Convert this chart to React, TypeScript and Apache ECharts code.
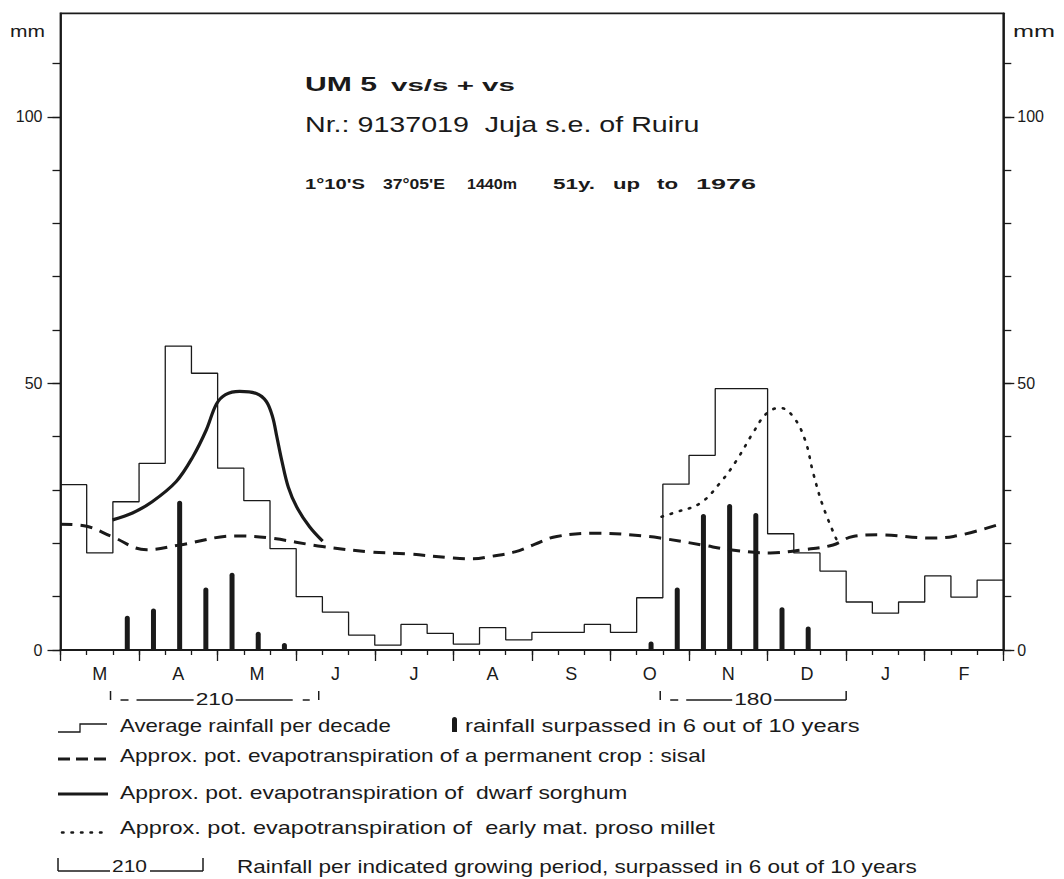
import React, { useEffect, useRef } from 'react';
import * as echarts from 'echarts';

// ---------- data ----------
const months = ['M', 'A', 'M', 'J', 'J', 'A', 'S', 'O', 'N', 'D', 'J', 'F'];

// average rainfall per decade (36 decades, March 1st .. end of February)
const decadeRainfall = [
  31, 18.2, 27.8, 35, 57, 51.9, 34.1, 28, 19, 10, 7.1, 2.8,
  0.9, 4.8, 3.1, 1.1, 4.2, 1.9, 3.3, 3.3, 4.8, 3.3, 9.8, 31.1,
  36.5, 49, 49, 21.8, 18.2, 14.8, 9, 6.9, 9, 13.9, 9.9, 13.1,
];

// rainfall surpassed in 6 out of 10 years (per decade, null = none)
const rain6of10 = [
  null, null, 6.4, 7.8, 28, 11.7, 14.5, 3.4, 1.3, null, null, null,
  null, null, null, null, null, null, null, null, null, null, 1.6, 11.7,
  25.5, 27.4, 25.7, 8, 4.4, null, null, null, null, null, null, null,
];

// approx. pot. evapotranspiration of sisal (decade position, mm)
const sisalDecade = [0, 1, 1.95, 3.29, 4.55, 6.73, 7.99, 10, 11.8, 13.3, 15, 15.74, 16.5, 17.35, 18.1, 18.95, 20.6, 22.2, 22.9, 24.5, 25.56, 27.1, 28.35, 29.5, 30.26, 31.3, 33.2, 34.1, 36];
const sisalValue = [23.6, 23.2, 21.3, 18.8, 19.7, 21.4, 21, 19.4, 18.4, 18, 17.25, 17.1, 17.6, 18.4, 19.8, 21.3, 21.9, 21.4, 21, 19.7, 18.8, 18.2, 18.8, 19.7, 21.3, 21.6, 21, 21.3, 23.8];

// dwarf sorghum
const sorghumDecade = [1.99, 2.75, 3.5, 4.42, 5.05, 5.57, 5.95, 6.3, 6.84, 7.48, 7.86, 8.1, 8.26, 8.45, 8.7, 9.02, 9.51, 10.01];
const sorghumValue = [24.4, 25.7, 27.8, 31.6, 36.2, 41.3, 46.1, 47.9, 48.5, 48.1, 46.6, 43.7, 40, 35.5, 30.5, 26.8, 23.1, 20.4];

// early maturing proso millet
const milletDecade = [22.95, 23.53, 24.42, 25.18, 25.82, 26.44, 26.97, 27.48, 27.97, 28.43, 28.74, 29.12, 29.64];
const milletValue = [25, 25.9, 27.5, 31.3, 35.6, 40.7, 44.4, 45.4, 43.8, 39.4, 33.2, 26.9, 20.6];

// growing periods (rainfall surpassed in 6 out of 10 years)
const periodLabels = ['210', '180'];
const periodStart = [1.91, 22.9];
const periodEnd = [9.86, 30.0];

const yTickValues = [0, 10, 20, 30, 40, 50, 60, 70, 80, 90, 100, 110];
const yLabelValues = [0, 50, 100];
const yMax = 119.4;

// ---------- helpers ----------
const INK = '#1a1a1a';
const FAMILY = '"Liberation Sans", Arial, Helvetica, sans-serif';

let measureCtx: CanvasRenderingContext2D | null = null;
function fitScale(text: string, font: string, width: number) {
  if (!measureCtx) measureCtx = document.createElement('canvas').getContext('2d');
  if (!measureCtx) return 1;
  measureCtx.font = font;
  const w = measureCtx.measureText(text).width;
  return w > 0 ? width / w : 1;
}

function label(text: string, x: number, y: number, width: number, size: number, weight = 'normal', align = 'left') {
  const font = `${weight} ${size}px ${FAMILY}`;
  return {
    type: 'text',
    x,
    y,
    scaleX: width ? fitScale(text, font, width) : 1,
    style: {
      text,
      font,
      fill: INK,
      align,
      textAlign: align,
      verticalAlign: 'middle',
      textVerticalAlign: 'middle',
    },
  };
}

function seg(x1: number, y1: number, x2: number, y2: number, width = 1.4, extra: any = {}) {
  return {
    type: 'line',
    shape: { x1, y1, x2, y2 },
    style: { stroke: INK, lineWidth: width, ...extra },
  };
}

export default function App() {
  const ref = useRef<HTMLDivElement>(null);

  useEffect(() => {
    if (!ref.current) return;
    const chart = echarts.init(ref.current, null, { renderer: 'svg' });

    const histData = decadeRainfall.map((v, i) => [i, v]);
    histData.push([36, decadeRainfall[decadeRainfall.length - 1]]);
    const barData = rain6of10.map((v, i) => [i + 0.55, v]).filter((d) => d[1] != null);
    const sisal = sisalDecade.map((d, i) => [d, sisalValue[i]]);
    const sorghum = sorghumDecade.map((d, i) => [d, sorghumValue[i]]);
    const millet = milletDecade.map((d, i) => [d, milletValue[i]]);

    const axisLine = { show: true, lineStyle: { color: INK, width: 1.8 } };
    const tickStyle = { color: INK, width: 1.3 };

    chart.setOption({
      animation: false,
      backgroundColor: '#ffffff',
      grid: {
        left: 60.5,
        right: 60.7,
        top: 13.3,
        bottom: 229,
        show: true,
        borderColor: INK,
        borderWidth: 1.8,
        backgroundColor: 'transparent',
      },
      xAxis: [
        {
          type: 'value',
          min: 0,
          max: 36,
          interval: 1,
          position: 'bottom',
          axisLine: { show: true, lineStyle: { color: INK, width: 2 } },
          axisTick: { show: true, length: 5, lineStyle: tickStyle },
          axisLabel: { show: false },
          splitLine: { show: false },
        },
        {
          type: 'category',
          data: months,
          position: 'bottom',
          boundaryGap: true,
          axisLine: { show: false },
          axisTick: { show: true, length: 11, interval: 0, lineStyle: tickStyle },
          axisLabel: { interval: 0, fontSize: 18, fontFamily: FAMILY, color: INK, margin: 15 },
          splitLine: { show: false },
        },
      ],
      yAxis: [
        {
          type: 'value',
          min: 0,
          max: yMax,
          position: 'left',
          axisLine,
          axisTick: { show: true, length: 8, customValues: yTickValues, lineStyle: tickStyle },
          axisLabel: { customValues: yLabelValues, fontSize: 16, fontFamily: FAMILY, color: INK, margin: 18 },
          splitLine: { show: false },
        },
        {
          type: 'value',
          min: 0,
          max: yMax,
          position: 'right',
          axisLine,
          axisTick: { show: true, length: 8, customValues: yTickValues, lineStyle: tickStyle },
          axisLabel: { customValues: yLabelValues, fontSize: 16, fontFamily: FAMILY, color: INK, margin: 14 },
          splitLine: { show: false },
        },
        {
          type: 'value',
          min: 0,
          max: yMax,
          position: 'left',
          axisLine: { show: false },
          axisTick: { show: true, length: 13, customValues: yLabelValues, lineStyle: tickStyle },
          axisLabel: { show: false },
          splitLine: { show: false },
        },
        {
          type: 'value',
          min: 0,
          max: yMax,
          position: 'right',
          axisLine: { show: false },
          axisTick: { show: true, length: 11, customValues: yLabelValues, lineStyle: tickStyle },
          axisLabel: { show: false },
          splitLine: { show: false },
        },
      ],
      series: [
        {
          name: 'Average rainfall per decade',
          type: 'line',
          xAxisIndex: 0,
          yAxisIndex: 0,
          data: histData,
          step: 'end',
          symbol: 'none',
          lineStyle: { color: INK, width: 1.3 },
          z: 2,
        },
        {
          name: 'rainfall surpassed in 6 out of 10 years',
          type: 'bar',
          xAxisIndex: 0,
          yAxisIndex: 0,
          data: barData,
          barWidth: 5,
          itemStyle: { color: INK, borderRadius: [2.5, 2.5, 0, 0] },
          z: 3,
        },
        {
          name: 'sisal',
          type: 'line',
          xAxisIndex: 0,
          yAxisIndex: 0,
          data: sisal,
          smooth: 0.4,
          symbol: 'none',
          lineStyle: { color: INK, width: 3, type: [12, 8] },
          z: 4,
        },
        {
          name: 'dwarf sorghum',
          type: 'line',
          xAxisIndex: 0,
          yAxisIndex: 0,
          data: sorghum,
          smooth: 0.35,
          symbol: 'none',
          lineStyle: { color: INK, width: 3.2 },
          z: 4,
        },
        {
          name: 'early mat. proso millet',
          type: 'line',
          xAxisIndex: 0,
          yAxisIndex: 0,
          data: millet,
          smooth: 0.4,
          symbol: 'none',
          lineStyle: { color: INK, width: 2.6, type: [1.5, 8], cap: 'round' },
          z: 4,
        },
      ],
    });

    // ---------- annotations ----------
    const elements: any[] = [];

    // mm labels
    elements.push(label('mm', 10, 31.5, 35, 16));
    elements.push(label('mm', 1013, 31.5, 42, 16));

    // title block
    elements.push(label('UM 5', 305, 83.4, 72, 21, 'bold'));
    elements.push(label('vs/s + vs', 391, 84.6, 124, 17, 'bold'));
    elements.push(label('Nr.: 9137019  Juja s.e. of Ruiru', 305, 123.8, 395, 22));
    elements.push(label("1°10'S", 305, 184, 60, 14, 'bold'));
    elements.push(label("37°05'E", 383, 184, 62, 14, 'bold'));
    elements.push(label('1440m', 467, 184, 50, 14, 'bold'));
    elements.push(label('51y.', 553, 184, 42, 14, 'bold'));
    elements.push(label('up', 613, 184, 27, 14, 'bold'));
    elements.push(label('to', 657, 184, 21, 14, 'bold'));
    elements.push(label('1976', 696, 184, 60, 14, 'bold'));

    // growing-period brackets under the axis
    const bracketY = 700;
    periodLabels.forEach((txt, i) => {
      const L = chart.convertToPixel({ xAxisIndex: 0 }, periodStart[i]) as number;
      const R = chart.convertToPixel({ xAxisIndex: 0 }, periodEnd[i]) as number;
      const mid = (L + R) / 2;
      const half = 21;
      elements.push(seg(L, bracketY - 9, L, bracketY, 1.5));
      elements.push(seg(R, bracketY - 9, R, bracketY, 1.5));
      elements.push(seg(L + 10, bracketY, L + 18, bracketY, 1.5));
      elements.push(seg(L + 26, bracketY, mid - half, bracketY, 1.5));
      if (i === 0) {
        elements.push(seg(mid + half, bracketY, R - 26, bracketY, 1.5));
        elements.push(seg(R - 16, bracketY, R - 9, bracketY, 1.5));
      } else {
        elements.push(seg(mid + half, bracketY, R, bracketY, 1.5));
      }
      elements.push(label(txt, mid, 699, 38, 17, 'normal', 'center'));
    });

    // legend
    elements.push({
      type: 'polyline',
      shape: { points: [[58, 732], [80, 732], [80, 724], [107, 724]] },
      style: { stroke: INK, lineWidth: 1.3, fill: null },
    });
    elements.push(label('Average rainfall per decade', 120, 725.3, 271, 18));
    elements.push({
      type: 'rect',
      shape: { x: 452, y: 717, width: 5, height: 15, r: [2.5, 2.5, 0, 0] },
      style: { fill: INK },
    });
    elements.push(label('rainfall surpassed in 6 out of 10 years', 465, 725.3, 395, 18));

    elements.push(seg(58, 759, 108, 759, 3, { lineDash: [12, 6] }));
    elements.push(label('Approx. pot. evapotranspiration of a permanent crop : sisal', 120, 756, 586, 18));

    elements.push(seg(58, 794, 108, 794, 3));
    elements.push(label('Approx. pot. evapotranspiration of  dwarf sorghum', 120, 792, 508, 18));

    elements.push(seg(62, 832.5, 108, 832.5, 2.6, { lineDash: [1.5, 8], lineCap: 'round' }));
    elements.push(label('Approx. pot. evapotranspiration of  early mat. proso millet', 120, 828, 595, 18));

    elements.push(seg(58, 858, 58, 871, 1.5));
    elements.push(seg(58, 871, 110, 871, 1.5));
    elements.push(label('210', 129.5, 866.7, 35, 17, 'normal', 'center'));
    elements.push(seg(150, 871, 203, 871, 1.5));
    elements.push(seg(203, 858, 203, 871, 1.5));
    elements.push(label('Rainfall per indicated growing period, surpassed in 6 out of 10 years', 237, 866.7, 680, 18));

    chart.setOption({ graphic: { elements } });

    return () => chart.dispose();
  }, []);

  return (
    <div
      ref={ref}
      style={{ position: 'fixed', left: 0, top: 0, width: 1064, height: 879, background: '#fff' }}
    />
  );
}
